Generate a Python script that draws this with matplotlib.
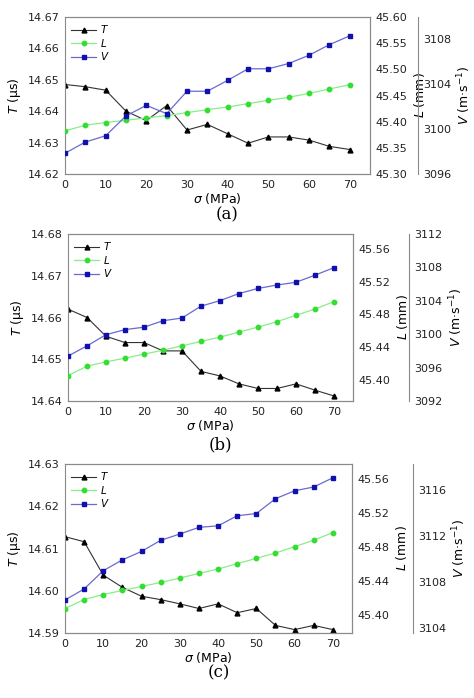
import matplotlib
matplotlib.use("Agg")
import matplotlib.pyplot as plt
import numpy as np

sigma = [0, 5, 10, 15, 20, 25, 30, 35, 40, 45, 50, 55, 60, 65, 70]

T_a = [14.6485, 14.6478, 14.6467, 14.6400, 14.6370, 14.6418, 14.6340, 14.6358, 14.6328, 14.6298, 14.6318, 14.6318, 14.6308, 14.6288, 14.6278]
L_a = [45.3824, 45.3932, 45.3983, 45.4027, 45.4072, 45.4116, 45.4173, 45.4230, 45.4281, 45.4344, 45.4408, 45.4465, 45.4541, 45.4624, 45.4706]
V_a = [3097.85, 3098.85, 3099.41, 3101.18, 3102.12, 3101.38, 3103.38, 3103.38, 3104.35, 3105.38, 3105.38, 3105.85, 3106.59, 3107.53, 3108.32]

T_b = [14.6620, 14.6600, 14.6555, 14.6540, 14.6540, 14.6520, 14.6520, 14.6471, 14.6460, 14.6441, 14.6430, 14.6430, 14.6441, 14.6426, 14.6412]
L_b = [45.4057, 45.4171, 45.4224, 45.4269, 45.4318, 45.4366, 45.4419, 45.4472, 45.4525, 45.4586, 45.4647, 45.4713, 45.4790, 45.4867, 45.4957]
V_b = [3097.38, 3098.60, 3099.94, 3100.55, 3100.84, 3101.61, 3101.94, 3103.36, 3104.02, 3104.87, 3105.48, 3105.89, 3106.22, 3107.07, 3107.97]

T_c = [14.6128, 14.6116, 14.6037, 14.6008, 14.5987, 14.5979, 14.5969, 14.5958, 14.5969, 14.5948, 14.5958, 14.5918, 14.5908, 14.5918, 14.5908]
L_c = [45.4071, 45.4177, 45.4236, 45.4284, 45.4331, 45.4378, 45.4430, 45.4485, 45.4536, 45.4599, 45.4662, 45.4725, 45.4800, 45.4875, 45.4966]
V_c = [3106.47, 3107.43, 3109.02, 3109.96, 3110.70, 3111.66, 3112.21, 3112.79, 3112.92, 3113.80, 3113.99, 3115.28, 3115.97, 3116.30, 3117.10]

panels = [
    dict(T=T_a, L=L_a, V=V_a, tl=(14.62, 14.67), tt=np.arange(14.62, 14.6701, 0.01), tf="%.2f",
         ll=(45.30, 45.60), lt=np.arange(45.30, 45.601, 0.05), lf="%.2f",
         vl=(3096, 3110), vt=[3096, 3100, 3104, 3108],
         box=(65, 370, 17, 174), vx=418, cap="(a)", capy=215),
    dict(T=T_b, L=L_b, V=V_b, tl=(14.64, 14.68), tt=np.arange(14.64, 14.6801, 0.01), tf="%.2f",
         ll=(45.3748, 45.5779), lt=[45.40, 45.44, 45.48, 45.52, 45.56], lf="%.2f",
         vl=(3092, 3112), vt=[3092, 3096, 3100, 3104, 3108, 3112],
         box=(68, 353, 234, 401), vx=409, cap="(b)", capy=445),
    dict(T=T_c, L=L_c, V=V_c, tl=(14.59, 14.63), tt=np.arange(14.59, 14.6301, 0.01), tf="%.2f",
         ll=(45.3783, 45.5773), lt=[45.40, 45.44, 45.48, 45.52, 45.56], lf="%.2f",
         vl=(3103.6, 3118.3), vt=[3104, 3108, 3112, 3116],
         box=(65, 352, 464, 633), vx=413, cap="(c)", capy=673),
]

W, H = 474, 698
fig = plt.figure(figsize=(W / 100, H / 100), dpi=100)
gray = "#8a8a8a"
fs = 8
blue_line = "#6a6ad0"
blue_mk = "#1010b0"
green = "#33dd33"

for p in panels:
    l, r, t, b = p["box"]
    ax = fig.add_axes([l / W, 1 - b / H, (r - l) / W, (b - t) / H])
    axL = ax.twinx()
    axV = ax.twinx()
    axV.spines["right"].set_position(("axes", (p["vx"] - l) / (r - l)))
    for a in (ax, axL, axV):
        for s in a.spines.values():
            s.set_color(gray)
            s.set_linewidth(0.8)
        a.tick_params(colors=gray, labelcolor="#222222", labelsize=fs, length=0, pad=4)
    axV.spines["left"].set_visible(False); axV.spines["top"].set_visible(False); axV.spines["bottom"].set_visible(False)
    axL.spines["left"].set_visible(False)

    lT, = ax.plot(sigma, p["T"], color="#333333", lw=0.8, marker="^", ms=3.5, mfc="black", mec="black", label="T")
    lL, = axL.plot(sigma, p["L"], color="#88ee88", lw=0.9, marker="o", ms=3.2, mfc=green, mec=green, label="L")
    lV, = axV.plot(sigma, p["V"], color=blue_line, lw=0.9, marker="s", ms=3, mfc=blue_mk, mec=blue_mk, label="V")

    ax.set_xlim(0, 75)
    ax.set_xticks(range(0, 71, 10))
    ax.set_ylim(*p["tl"]); ax.set_yticks(p["tt"])
    ax.set_yticklabels([p["tf"] % v for v in p["tt"]])
    axL.set_ylim(*p["ll"]); axL.set_yticks(p["lt"])
    axL.set_yticklabels([p["lf"] % v for v in p["lt"]])
    axV.set_ylim(*p["vl"]); axV.set_yticks(p["vt"])

    ax.set_xlabel(r"$\sigma$ (MPa)", fontsize=9, labelpad=1)
    ax.set_ylabel(r"$T$ (μs)", fontsize=9, labelpad=3)
    axL.set_ylabel(r"$L$ (mm)", fontsize=9, labelpad=3)
    axV.set_ylabel(r"$V$ (m·s$^{-1}$)", fontsize=9, labelpad=3)

    ax.legend(handles=[lT, lL, lV], labels=["$T$", "$L$", "$V$"], loc="upper left",
              frameon=False, fontsize=7.5, handlelength=2.4, handletextpad=0.4,
              labelspacing=0.15, borderaxespad=0.2)
    fig.text(((l + r) / 2 + 10) / W, 1 - p["capy"] / H, p["cap"], ha="center", va="center",
             fontsize=12, family="DejaVu Serif")

fig.savefig("out.png", dpi=100)
